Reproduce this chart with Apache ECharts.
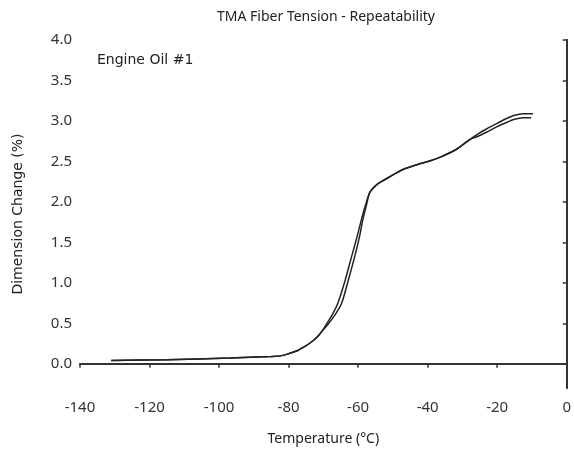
<!DOCTYPE html>
<html>
<head>
<meta charset="utf-8">
<script src="https://cdn.jsdelivr.net/npm/echarts@6/dist/echarts.min.js"></script>
<style>html,body{margin:0;padding:0;background:#fff}#c{width:574px;height:454px}</style>
</head>
<body>
<div id="c"></div>
<script>
const title = "TMA Fiber Tension - Repeatability";
const annotation = "Engine Oil #1";
const xName = "Temperature (°C)";
const yName = "Dimension Change (%)";
const yTickValues = [0, 0.5, 1.0, 1.5, 2.0, 2.5, 3.0, 3.5, 4.0];

const commonStart = [[-131, 0.04], [-115, 0.05], [-97, 0.07], [-85, 0.09], [-82, 0.10], [-79.6, 0.13], [-77.5, 0.16], [-75.9, 0.20], [-74, 0.25], [-72, 0.32], [-70.4, 0.40]];
const riseA = [[-69.1, 0.49], [-67.5, 0.60], [-65.8, 0.75], [-63.8, 1.02], [-61.9, 1.32], [-60.3, 1.57], [-59.0, 1.79], [-57.8, 1.97], [-56.6, 2.12]];
const riseB = [[-68.6, 0.49], [-66.7, 0.60], [-64.8, 0.74], [-62.9, 1.02], [-61.0, 1.32], [-59.6, 1.57], [-58.6, 1.79], [-57.6, 1.96], [-56.6, 2.12]];
const commonMid = [[-54.7, 2.21], [-52.5, 2.27], [-50.9, 2.31], [-47.1, 2.40], [-42.3, 2.47], [-39, 2.51], [-36.5, 2.55], [-31.7, 2.65], [-27.9, 2.77]];
const endA = [[-25.5, 2.84], [-23.1, 2.90], [-20, 2.97], [-17.3, 3.03], [-15, 3.07], [-12.6, 3.09], [-9.7, 3.09]];
const endB = [[-25.5, 2.81], [-23.1, 2.86], [-20, 2.93], [-17.3, 2.98], [-15, 3.02], [-12.6, 3.04], [-10.2, 3.04]];

const run1 = commonStart.concat(riseA, commonMid, endA);
const run2 = commonStart.concat(riseB, commonMid, endB);

const font = "Noto Sans";
const chart = echarts.init(document.getElementById('c'), null, {renderer: 'canvas'});
chart.setOption({
  animation: false,
  backgroundColor: '#fff',
  title: {
    text: title, left: 321, textAlign: 'center', top: 5,
    textStyle: {fontFamily: font, fontSize: 14, fontWeight: 'normal', color: '#222'}
  },
  graphic: [{
    type: 'text', left: 97, top: 53,
    style: {text: annotation, font: '14px "DejaVu Sans"', fill: '#222'}
  }],
  grid: {left: 80, right: 7, top: 40, bottom: 66},
  xAxis: {
    type: 'value', min: -140, max: 0, interval: 20,
    name: xName, nameLocation: 'middle', nameGap: 44,
    nameTextStyle: {fontFamily: font, fontSize: 14, color: '#222'},
    axisLine: {lineStyle: {color: '#333', width: 2}},
    axisTick: {show: true, length: 4, lineStyle: {color: '#333', width: 1.5}},
    axisLabel: {margin: 12, fontFamily: font, fontSize: 15, color: '#333'},
    splitLine: {show: false}
  },
  yAxis: [{
    type: 'value', min: -0.3, max: 4.0,
    name: yName, nameLocation: 'middle', nameGap: 55,
    nameTextStyle: {fontFamily: "DejaVu Sans", fontSize: 14, color: '#222'},
    axisLine: {show: true, lineStyle: {color: '#333', width: 2}},
    axisTick: {show: true, length: 4, customValues: yTickValues, lineStyle: {color: '#333', width: 1.5}},
    axisLabel: {margin: 8, fontFamily: font, fontSize: 15, color: '#333', customValues: yTickValues,
      formatter: v => v.toFixed(1)},
    splitLine: {show: false}
  }, {
    type: 'value', min: -0.3, max: 4.0, position: 'right',
    axisLine: {show: true, lineStyle: {color: '#333', width: 2}},
    axisTick: {show: false}, axisLabel: {show: false}, splitLine: {show: false}
  }],
  series: [
    {type: 'line', data: run1, showSymbol: false, smooth: 0.3, lineStyle: {color: '#222', width: 1.5}},
    {type: 'line', data: run2, showSymbol: false, smooth: 0.3, lineStyle: {color: '#222', width: 1.5}}
  ]
});
</script>
</body>
</html>
